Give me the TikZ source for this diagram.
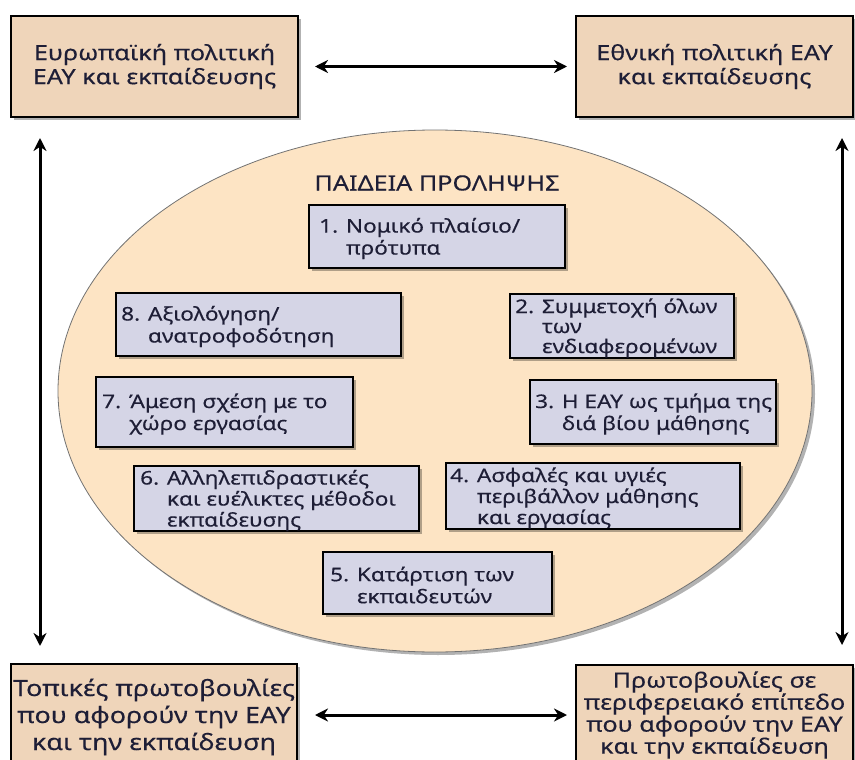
\documentclass[tikz,border=0pt]{standalone}
\usepackage{fontspec}
\setmainfont[FakeStretch=1.2,FakeBold=0.3]{Noto Sans}
\usetikzlibrary{shadows,arrows.meta,shapes.geometric}
\definecolor{outerfill}{HTML}{EFD5BA}
\definecolor{ellfill}{HTML}{FDE4C4}
\definecolor{innerfill}{HTML}{D5D5E6}
\definecolor{txt}{HTML}{1E1E36}
\tikzset{
  outerbox/.style={draw=black, line width=1.5pt, fill=outerfill, rectangle, outer sep=0pt,
    drop shadow={shadow xshift=3pt, shadow yshift=-3pt, opacity=0.3, fill=black},
    text=txt, align=center, inner sep=0pt},
  outertext/.style={font=\fontsize{21}{24}\selectfont},
  inbox/.style={draw=black, line width=1.3pt, fill=innerfill, rectangle, outer sep=0pt,
    drop shadow={shadow xshift=3pt, shadow yshift=-3pt, opacity=0.3, fill=black}},
  intext/.style={text=txt, align=left, inner sep=0pt, font=\fontsize{18.8}{22}\selectfont},
  arr/.style={draw=black, line width=3pt, {Stealth[length=13pt,width=13pt]}-{Stealth[length=13pt,width=13pt]}}
}
\begin{document}
\begin{tikzpicture}[x=1pt,y=-1pt]
\useasboundingbox (0,0) rectangle (855,760);
\clip (0,0) rectangle (855,760);
% ellipse
\node[ellipse, draw=black!55, line width=0.8pt, fill=ellfill, minimum width=754pt, minimum height=522pt,
  drop shadow={shadow xshift=3pt, shadow yshift=-3pt, opacity=0.3, fill=black}] (ell) at (435,391) {};
\node[text=txt, font=\fontsize{21}{24}\selectfont] (title) at (437,183) {ΠΑΙΔΕΙΑ ΠΡΟΛΗΨΗΣ};
% outer boxes
\node[outerbox, minimum width=287pt, minimum height=101pt, outertext] (tl) at (154.5,66.5) {Ευρωπαϊκή πολιτική\\ΕΑΥ και εκπαίδευσης};
\node[outerbox, minimum width=277pt, minimum height=101pt, outertext] (tr) at (714.5,66.5) {Εθνική πολιτική ΕΑΥ\\και εκπαίδευσης};
\node[outerbox, minimum width=286pt, minimum height=106pt, font=\fontsize{22.4}{27}\selectfont] (bl) at (154,717) {Τοπικές πρωτοβουλίες\\που αφορούν την ΕΑΥ\\και την εκπαίδευση};
\node[outerbox, minimum width=277pt, minimum height=100pt, font=\fontsize{21}{22}\selectfont] (br) at (714.5,715) {Πρωτοβουλίες σε\\περιφερειακό επίπεδο\\που αφορούν την ΕΑΥ\\και την εκπαίδευση};
% arrows
\draw[arr] ([xshift=17pt]tl.east) -- ([xshift=-9pt]tr.west);
\draw[arr] ([xshift=18pt]bl.east |- br.west) -- ([xshift=-9pt]br.west);
\draw[arr] ([xshift=29pt,yshift=-21pt]tl.south west) -- ([xshift=29pt,yshift=18pt]bl.north west);
\draw[arr] ([xshift=-11pt,yshift=-21pt]tr.south east) -- ([xshift=-11pt,yshift=20pt]br.north east);
% inner boxes
\node[inbox, minimum width=256pt, minimum height=63pt] (b1) at (437,236.5) {};
\node[intext, anchor=west] (t1) at ([xshift=10pt,yshift=-2pt]b1.west) {1. Νομικό πλαίσιο/\\\hphantom{1. }πρότυπα};
\node[inbox, minimum width=224pt, minimum height=64pt] (b2) at (622,326) {};
\node[intext, anchor=west, font=\fontsize{18.8}{20}\selectfont] (t2) at ([xshift=5pt,yshift=-2pt]b2.west) {2. Συμμετοχή όλων\\\hphantom{2. }των\\\hphantom{2. }ενδιαφερομένων};
\node[inbox, minimum width=246pt, minimum height=64pt] (b3) at (653,412) {};
\node[intext, anchor=west] (t3) at ([xshift=5pt,yshift=-2pt]b3.west) {3. Η ΕΑΥ ως τμήμα της\\\hphantom{3. }διά βίου μάθησης};
\node[inbox, minimum width=294pt, minimum height=66pt] (b4) at (593,496) {};
\node[intext, anchor=west, font=\fontsize{18.8}{21}\selectfont] (t4) at ([xshift=4pt,yshift=-2pt]b4.west) {4. Ασφαλές και υγιές\\\hphantom{4. }περιβάλλον μάθησης\\\hphantom{4. }και εργασίας};
\node[inbox, minimum width=229pt, minimum height=62pt] (b5) at (437.5,583) {};
\node[intext, anchor=west] (t5) at ([xshift=7pt,yshift=-2pt]b5.west) {5. Κατάρτιση των\\\hphantom{5. }εκπαιδευτών};
\node[inbox, minimum width=285pt, minimum height=65pt] (b6) at (276.5,498.5) {};
\node[intext, anchor=west, font=\fontsize{18.8}{21}\selectfont] (t6) at ([xshift=6pt,yshift=-2pt]b6.west) {6. Αλληλεπιδραστικές\\\hphantom{6. }και ευέλικτες μέθοδοι\\\hphantom{6. }εκπαίδευσης};
\node[inbox, minimum width=257pt, minimum height=70pt] (b7) at (224.5,412) {};
\node[intext, anchor=west] (t7) at ([xshift=6pt,yshift=-2pt]b7.west) {7. Άμεση σχέση με το\\\hphantom{7. }χώρο εργασίας};
\node[inbox, minimum width=285pt, minimum height=63pt] (b8) at (258.5,324.5) {};
\node[intext, anchor=west] (t8) at ([xshift=5pt,yshift=-2pt]b8.west) {8. Αξιολόγηση/\\\hphantom{8. }ανατροφοδότηση};
\end{tikzpicture}
\end{document}
